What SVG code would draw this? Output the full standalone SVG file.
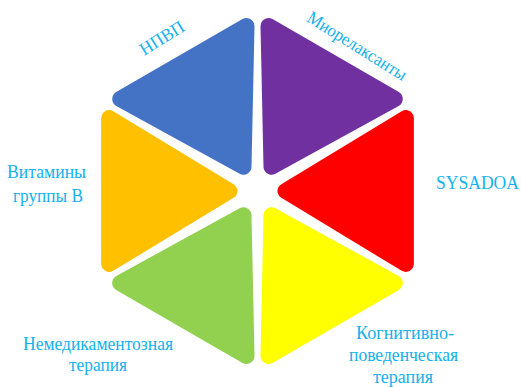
<svg xmlns="http://www.w3.org/2000/svg" width="521" height="387" viewBox="0 0 521 387">
<style>
.seg{stroke-width:16;stroke-linejoin:round}
text{font-family:'Liberation Serif','DejaVu Serif',serif;font-size:18px;fill:#14B1EE;text-anchor:middle}
</style>
<rect width="521" height="387" fill="#FFFFFF"/>
<g id="connectors"></g>
<g id="nsaid">
<polygon class="seg" fill="#4472C4" stroke="#4472C4" points="246.5,26.05 120.15,99 243.5,166.75"/>
<text x="165" y="43" transform="rotate(-32 165 43)" textLength="49" lengthAdjust="spacingAndGlyphs">НПВП</text>
</g>
<g id="myorelax">
<polygon class="seg" fill="#7030A0" stroke="#7030A0" points="268.5,26.05 394.85,99 271.5,166.75"/>
<text x="354" y="51" transform="rotate(32 354 51)" textLength="114" lengthAdjust="spacingAndGlyphs">Миорелаксанты</text>
</g>
<g id="sysadoa">
<polygon class="seg" fill="#FF0000" stroke="#FF0000" points="405.85,118.05 405.85,263.95 285.5,191"/>
<text x="477.5" y="189" textLength="83" lengthAdjust="spacingAndGlyphs">SYSADOA</text>
</g>
<g id="cbt">
<polygon class="seg" fill="#FFFF00" stroke="#FFFF00" points="394.85,283 268.5,355.95 271.5,215.25"/>
<text x="405" y="339" textLength="98" lengthAdjust="spacingAndGlyphs">Когнитивно-</text>
<text x="403.5" y="361" textLength="109" lengthAdjust="spacingAndGlyphs">поведенческая</text>
<text x="403" y="383" textLength="60" lengthAdjust="spacingAndGlyphs">терапия</text>
</g>
<g id="nondrug">
<polygon class="seg" fill="#92D050" stroke="#92D050" points="246.5,355.95 120.15,283 243.5,215.25"/>
<text x="98" y="350" textLength="150" lengthAdjust="spacingAndGlyphs">Немедикаментозная</text>
<text x="98" y="371" textLength="58" lengthAdjust="spacingAndGlyphs">терапия</text>
</g>
<g id="vitb">
<polygon class="seg" fill="#FFC000" stroke="#FFC000" points="109.15,263.95 109.15,118.05 229.5,191"/>
<text x="46.5" y="178" textLength="79" lengthAdjust="spacingAndGlyphs">Витамины</text>
<text x="48" y="202" textLength="70" lengthAdjust="spacingAndGlyphs">группы В</text>
</g>
</svg>
